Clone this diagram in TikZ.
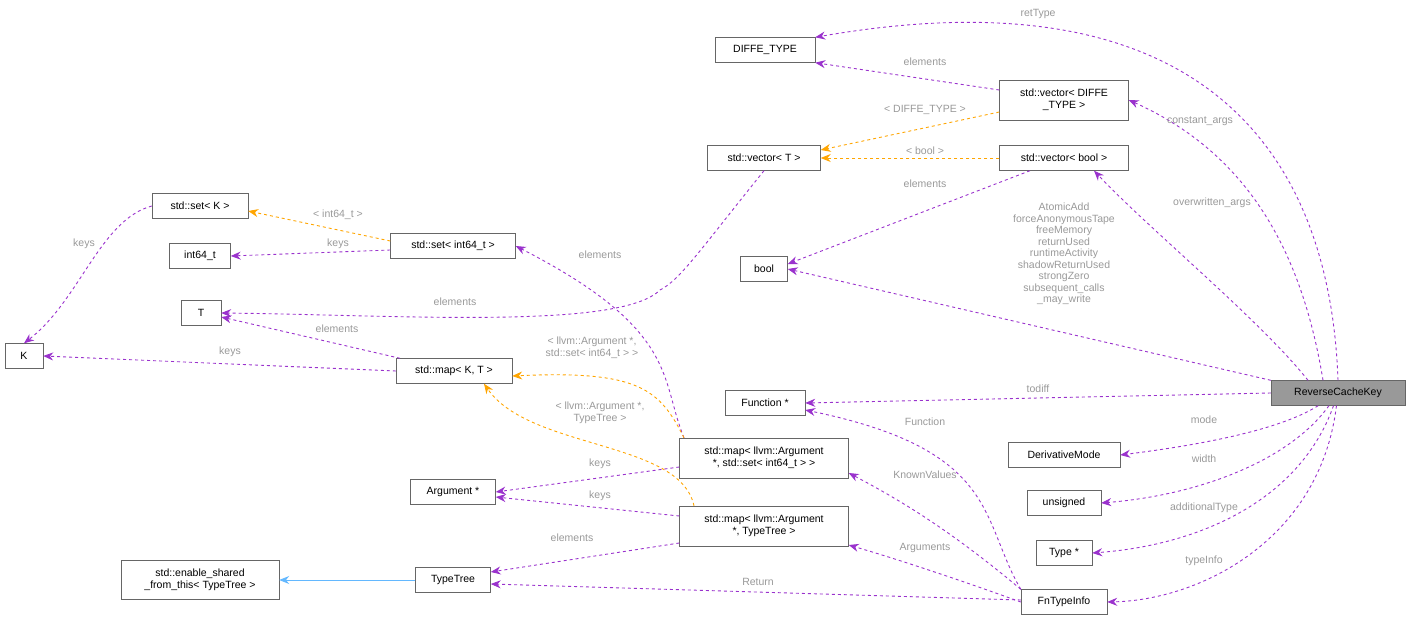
\documentclass[tikz,border=0pt]{standalone}
\usepackage{fontspec}
\setmainfont{Liberation Sans}
\usetikzlibrary{arrows.meta}
\begin{document}
\begin{tikzpicture}[x=1pt,y=-1pt,
 box/.style={draw=black!60,fill=white,font=\fontsize{10.5}{12}\selectfont,align=center,inner sep=3pt,minimum height=25pt},
 pe/.style={draw={rgb,255:red,154;green,50;blue,205},dashed,-{Stealth[length=10pt,width=8pt]},line width=0.9pt},
 oe/.style={draw={rgb,255:red,255;green,165;blue,0},dashed,-{Stealth[length=10pt,width=8pt]},line width=0.9pt},
 be/.style={draw={rgb,255:red,99;green,184;blue,255},-{Stealth[length=10pt,width=8pt]},line width=0.9pt},
 lbl/.style={text=black!40,font=\fontsize{10.5}{12}\selectfont,align=center,inner sep=0pt}]
\useasboundingbox (0,0) rectangle (1410,620);
\node[box,minimum width=100pt] (dt) at (765,50) {DIFFE\_TYPE};
\node[box,minimum width=129pt,minimum height=40pt] (vd) at (1064,100) {std::vector\textless{} DIFFE\\\_TYPE \textgreater};
\node[box,minimum width=113pt] (vt) at (764,158) {std::vector\textless{} T \textgreater};
\node[box,minimum width=129pt] (vb) at (1064,158) {std::vector\textless{} bool \textgreater};
\node[box,minimum width=96pt] (sk) at (200,206) {std::set\textless{} K \textgreater};
\node[box,minimum width=125pt] (si) at (453,246) {std::set\textless{} int64\_t \textgreater};
\node[box,minimum width=61pt] (i64) at (200,256) {int64\_t};
\node[box,minimum width=47pt] (bool) at (764,269) {bool};
\node[box,minimum width=40pt] (T) at (201,313) {T};
\node[box,minimum width=38pt] (K) at (24,356) {K};
\node[box,minimum width=116pt] (mkt) at (454,371) {std::map\textless{} K, T \textgreater};
\node[box,minimum width=80pt] (fn) at (765,403) {Function *};
\node[box,minimum width=134pt,fill=black!40] (rck) at (1338,393) {ReverseCacheKey};
\node[box,minimum width=112pt] (dm) at (1064,455) {DerivativeMode};
\node[box,minimum width=169pt,minimum height=40pt] (mas) at (764,458) {std::map\textless{} llvm::Argument\\*, std::set\textless{} int64\_t \textgreater{} \textgreater};
\node[box,minimum width=85pt] (arg) at (453,492) {Argument *};
\node[box,minimum width=74pt] (uns) at (1064,503) {unsigned};
\node[box,minimum width=169pt,minimum height=40pt] (mat) at (764,526) {std::map\textless{} llvm::Argument\\*, TypeTree \textgreater};
\node[box,minimum width=56pt] (ty) at (1064,553) {Type *};
\node[box,minimum width=158pt,minimum height=39pt] (esf) at (200,580) {std::enable\_shared\\\_from\_this\textless{} TypeTree \textgreater};
\node[box,minimum width=75pt] (tt) at (453,580) {TypeTree};
\node[box,minimum width=86pt] (fti) at (1064,602) {FnTypeInfo};
% edges
\draw[pe] (rck.north) .. controls (1330,150) and (1200,-30) .. (dt.north east);
\draw[pe] ([xshift=-15pt]rck.north) .. controls (1300,240) and (1240,150) .. (vd.east);
\draw[pe] ([xshift=-30pt]rck.north) .. controls (1260,320) and (1150,230) .. ([xshift=30pt]vb.south);
\draw[pe] (rck.north west) -- (bool.east);
\draw[pe] (rck.west) -- (fn.east);
\draw[pe] (rck) .. controls (1280,430) and (1200,445) .. (dm.east);
\draw[pe] (rck) .. controls (1290,460) and (1200,495) .. (uns.east);
\draw[pe] (rck) .. controls (1300,500) and (1200,545) .. (ty.east);
\draw[pe] (rck) .. controls (1320,540) and (1200,600) .. (fti.east);
\draw[pe] ([yshift=10pt]vd.west) -- (dt.south east);
\draw[oe] ([yshift=-12pt]vd.west) -- ([yshift=8pt]vt.east);
\draw[oe] (vb.west) -- (vt.east);
\draw[pe] ([xshift=-34pt]vb.south) -- ([yshift=5pt]bool.east);
\draw[oe] ([yshift=5pt]si.west) -- ([yshift=-5pt]sk.east);
\draw[pe] ([yshift=-4pt]si.west) -- (i64.east);
\draw[pe] (sk.west) .. controls (100,220) and (80,300) .. (K.north);
\draw[pe] (vt.south) .. controls (700,250) and (680,280) .. (660,290) .. controls (620,330) and (400,315) .. (T.east);
\draw[pe] ([xshift=-54pt]mkt.north) -- ([yshift=-4pt]T.east);
\draw[pe] (mkt.west) -- (K.east);
\draw[pe] ([xshift=-80pt]mas.north) .. controls (660,380) and (680,330) .. (si.east);
\draw[oe] ([xshift=-80pt]mas.north) .. controls (660,390) and (640,370) .. ([yshift=-5pt]mkt.east);
\draw[oe] ([xshift=-70pt]mat.north) .. controls (680,440) and (530,450) .. ([xshift=30pt]mkt.south);
\draw[pe] ([yshift=-9pt]mas.west) -- (arg.east);
\draw[pe] ([yshift=10pt]mat.west) -- ([yshift=-5pt]arg.east);
\draw[pe] ([yshift=-17pt]mat.west) -- ([yshift=8pt]tt.east);
\draw[be] (tt.west) -- (esf.east);
\draw[pe] (fti.north west) .. controls (980,520) and (1000,450) .. ([yshift=-7pt]fn.east);
\draw[pe] (fti.north west) .. controls (950,530) and (900,500) .. ([yshift=-15pt]mas.east);
\draw[pe] (fti.west) .. controls (960,580) and (900,560) .. ([yshift=-19pt]mat.east);
\draw[pe] ([yshift=2pt]fti.west) -- ([yshift=-4pt]tt.east);
% labels
\node[lbl] at (1038,14) {retType};
\node[lbl] at (1200,121) {constant\_args};
\node[lbl] at (1212,203) {overwritten\_args};
\node[lbl,align=center,font=\fontsize{10.5}{11.5}\selectfont] at (1064,254) {AtomicAdd\\forceAnonymousTape\\freeMemory\\returnUsed\\runtimeActivity\\shadowReturnUsed\\strongZero\\subsequent\_calls\\\_may\_write};
\node[lbl] at (1038,389) {todiff};
\node[lbl] at (1204,420) {mode};
\node[lbl] at (1204,459) {width};
\node[lbl] at (1204,508) {additionalType};
\node[lbl] at (1204,561) {typeInfo};
\node[lbl] at (925,62) {elements};
\node[lbl] at (925,110) {\textless{} DIFFE\_TYPE \textgreater};
\node[lbl] at (925,151) {\textless{} bool \textgreater};
\node[lbl] at (925,184) {elements};
\node[lbl] at (338,215) {\textless{} int64\_t \textgreater};
\node[lbl] at (338,244) {keys};
\node[lbl] at (84,244) {keys};
\node[lbl] at (455,302) {elements};
\node[lbl] at (337,329) {elements};
\node[lbl] at (230,352) {keys};
\node[lbl] at (600,255) {elements};
\node[lbl] at (592,348) {\textless{} llvm::Argument *,\\std::set\textless{} int64\_t \textgreater{} \textgreater};
\node[lbl] at (600,413) {\textless{} llvm::Argument *,\\TypeTree \textgreater};
\node[lbl] at (600,464) {keys};
\node[lbl] at (600,496) {keys};
\node[lbl] at (572,538) {elements};
\node[lbl] at (925,422) {Function};
\node[lbl] at (925,475) {KnownValues};
\node[lbl] at (925,548) {Arguments};
\node[lbl] at (758,582) {Return};
\end{tikzpicture}
\end{document}
